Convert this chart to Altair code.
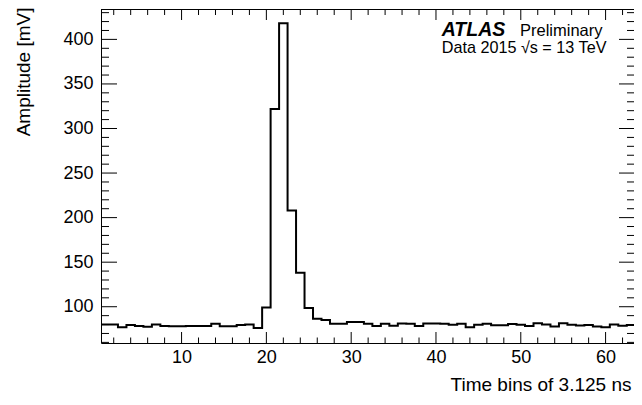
import altair as alt
import pandas as pd

# ---------------- data ----------------
bins = list(range(1, 65))
amplitude_mV = [
    80, 80, 77, 79.5, 78.5, 77.5, 80, 78.5, 78, 78,
    78.5, 78.5, 78.5, 81, 78, 78, 79.5, 80, 76, 99,
    322, 418, 208, 138, 98.5, 86.5, 85, 81, 81, 82.8,
    82.8, 81, 78.4, 81, 78.7, 81.3, 81, 78.4, 81.3, 81.3,
    81, 79.7, 81, 77, 79.7, 81, 79.3, 79.3, 80.6, 79.7,
    78.4, 81.6, 80, 77.7, 81.6, 79.7, 79, 79.4, 77.9, 77.1,
    80.2, 78.7, 79.4, 82.4,
]
x_major_ticks = [10, 20, 30, 40, 50, 60]
x_minor_ticks = [v for v in range(2, 65, 2) if v % 10 != 0]
y_major_ticks = [100, 150, 200, 250, 300, 350, 400]
y_minor_ticks = [v for v in range(60, 440, 10) if v % 50 != 0]

x_title = "Time bins of 3.125 ns"
y_title = "Amplitude [mV]"
atlas_label = "ATLAS"
prelim_label = "Preliminary"
data_label = "Data 2015 \u221as = 13 TeV"

# ---------------- layout ----------------
W, H = 533, 334
FONT = "Liberation Sans"

x_scale = alt.Scale(domain=[0.5, 63.35], nice=False, zero=False)
y_scale = alt.Scale(domain=[59.3, 434.1], nice=False, zero=False)

x_axis = alt.Axis(
    values=x_major_ticks, ticks=False, grid=False, domain=True,
    domainColor="black", domainWidth=1, labelFont=FONT, labelFontSize=18,
    labelColor="black", labelPadding=5, format="d",
    title=x_title, titleFont=FONT, titleFontSize=19, titleFontWeight="normal",
    titleColor="black", titleAnchor="end", titleAlign="right",
    titleX=W - 3, titleY=47, titleBaseline="alphabetic")
y_axis = alt.Axis(
    values=y_major_ticks, ticks=False, grid=False, domain=True,
    domainColor="black", domainWidth=1, labelFont=FONT, labelFontSize=18,
    labelColor="black", labelPadding=8, format="d",
    title=y_title, titleFont=FONT, titleFontSize=19, titleFontWeight="normal",
    titleColor="black", titleAnchor="end", titleAlign="right", titleAngle=270,
    titleX=-72, titleY=-2, titleBaseline="alphabetic")

# histogram outline as a step line through the bin edges
edges = [b - 0.5 for b in bins] + [bins[-1] + 0.5]
step_vals = amplitude_mV + [amplitude_mV[-1]]
hist_df = pd.DataFrame({"edge": edges, "amp": step_vals})

hist = alt.Chart(hist_df).mark_line(
    interpolate="step-after", color="black", strokeWidth=2, clip=True
).encode(
    x=alt.X("edge:Q", scale=x_scale, axis=x_axis),
    y=alt.Y("amp:Q", scale=y_scale, axis=y_axis),
)

def yticks(vals, x0, x1):
    return alt.Chart(pd.DataFrame({"v": vals})).mark_rule(
        color="black", strokeWidth=1).encode(
        y=alt.Y("v:Q", scale=y_scale, axis=y_axis),
        x=alt.value(x0), x2=alt.value(x1))

def xticks(vals, y0, y1):
    return alt.Chart(pd.DataFrame({"v": vals})).transform_filter(
        alt.datum.v <= 63.35).mark_rule(
        color="black", strokeWidth=1).encode(
        x=alt.X("v:Q", scale=x_scale, axis=x_axis),
        y=alt.value(y0), y2=alt.value(y1))

tick_layers = [
    yticks(y_major_ticks, 0, 16),
    yticks(y_minor_ticks, 0, 8),
    yticks(y_major_ticks, W - 15, W),
    yticks(y_minor_ticks, W - 7, W),
    xticks(x_major_ticks, H, H - 11),
    xticks(x_minor_ticks, H, H - 5.5),
    xticks(x_major_ticks, 0, 11),
    xticks(x_minor_ticks, 0, 6),
]

top_frame = alt.Chart(pd.DataFrame({"v": [0]})).mark_rule(
    color="black", strokeWidth=1).encode(
    y=alt.value(0.5), x=alt.value(0), x2=alt.value(W))

labels_df = pd.DataFrame({"t": [atlas_label]})
atlas = alt.Chart(labels_df).mark_text(
    text=atlas_label, font=FONT, fontSize=19.5, fontWeight="bold", fontStyle="italic",
    align="left", baseline="alphabetic", color="black").encode(
    x=alt.value(340.7), y=alt.value(27))
prelim = alt.Chart(labels_df).mark_text(
    text=prelim_label, font=FONT, fontSize=16.5,
    align="left", baseline="alphabetic", color="black").encode(
    x=alt.value(419), y=alt.value(27))
data_txt = alt.Chart(labels_df).mark_text(
    text=data_label, font=FONT, fontSize=16.2,
    align="left", baseline="alphabetic", color="black").encode(
    x=alt.value(340.7), y=alt.value(44))

chart = alt.layer(hist, *tick_layers, top_frame, atlas, prelim, data_txt).properties(
    width=W, height=H,
    autosize=alt.AutoSizeParams(type="none"),
    padding={"left": 93, "top": 1, "right": 0, "bottom": 50},
    background="white",
).configure_view(stroke=None)

chart.save("out.html", embed_options={"renderer": "svg", "actions": False})
